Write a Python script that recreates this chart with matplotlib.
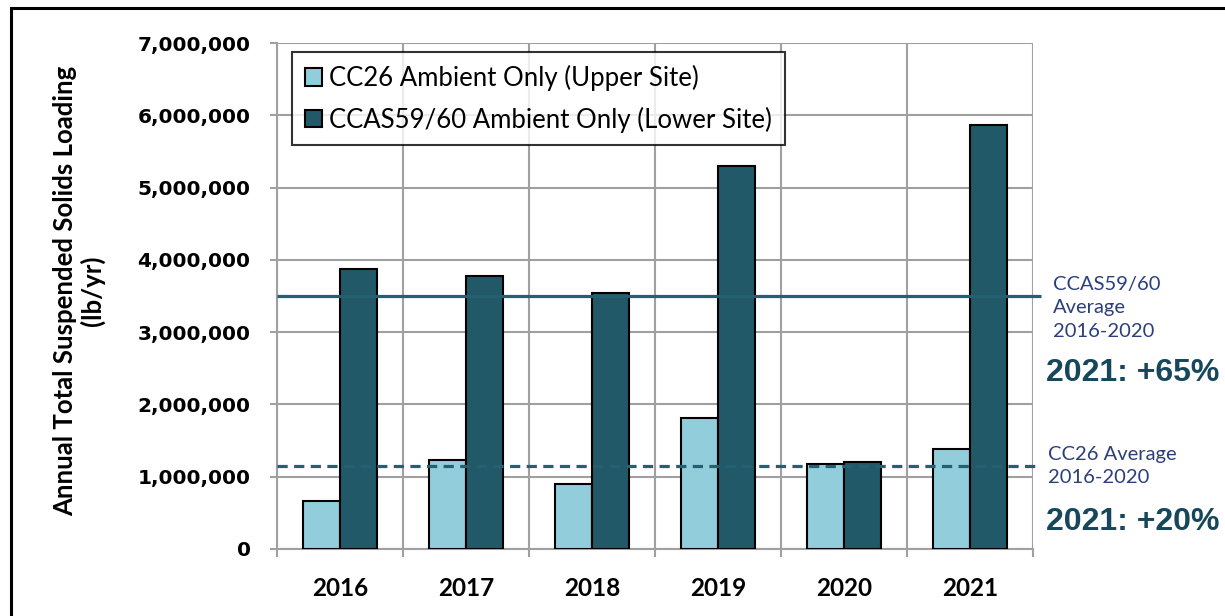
import numpy as np
import matplotlib.pyplot as plt
from matplotlib.patches import Rectangle
from matplotlib.ticker import FuncFormatter, MultipleLocator

# values (lb/yr)
years = ["2016", "2017", "2018", "2019", "2020", "2021"]
cc26 = [670000, 1230000, 905000, 1810000, 1170000, 1390000]
ccas = [3880000, 3770000, 3540000, 5300000, 1210000, 5860000]
ccas_avg = 3500000
cc26_avg = 1150000

LIGHT = "#92CDDC"
DARK = "#215968"
LINE = "#24606F"
GRID = "#A0A0A0"
NAVY = "#2B3F7A"
TEAL = "#17475A"

W, H = 1225, 616
fig = plt.figure(figsize=(W / 100, H / 100), dpi=100)
ax = fig.add_axes([277 / W, 1 - 549 / H, (1033 - 277) / W, (549 - 43) / H])

x = np.arange(len(years))
bw = 0.29
ax.bar(x - bw / 2, cc26, bw, color=LIGHT, edgecolor="black", linewidth=1.5,
       label="CC26 Ambient Only (Upper Site)", zorder=3)
ax.bar(x + bw / 2, ccas, bw, color=DARK, edgecolor="black", linewidth=1.5,
       label="CCAS59/60 Ambient Only (Lower Site)", zorder=3)

ax.hlines(ccas_avg, -0.5, 5.56, color=LINE, linewidth=2.3, zorder=4, clip_on=False)
ax.hlines(cc26_avg, -0.5, 5.56, color=LINE, linewidth=2.3, linestyles=(0, (3.2, 2.0)),
          zorder=4, clip_on=False)

ax.set_xlim(-0.5, 5.5)
ax.set_ylim(0, 7000000)
ax.yaxis.set_major_locator(MultipleLocator(1000000))
ax.yaxis.set_major_formatter(FuncFormatter(lambda v, p: f"{int(v):,}"))
ax.set_xticks(x)
ax.set_xticklabels(years)
ax.set_xticks(np.arange(-0.5, 6.0, 1.0), minor=True)

for s in ["top", "right"]:
    ax.spines[s].set_visible(False)
for s in ["left", "bottom"]:
    ax.spines[s].set_color(GRID)
    ax.spines[s].set_linewidth(1.5)

ax.grid(axis="y", which="major", color=GRID, linewidth=1.5, zorder=0)
ax.grid(axis="x", which="minor", color=GRID, linewidth=1.5, zorder=0)
ax.set_axisbelow(True)

ax.tick_params(axis="y", length=5, width=1.5, color=GRID, pad=14)
ax.tick_params(axis="x", which="major", length=0, pad=20)
ax.tick_params(axis="x", which="minor", length=6, width=1.5, color=GRID)
for lab in ax.get_yticklabels():
    lab.set_fontfamily("DejaVu Sans")
    lab.set_fontweight("bold")
    lab.set_fontsize(14.5)
for lab in ax.get_xticklabels():
    lab.set_fontfamily("Lato")
    lab.set_fontweight("bold")
    lab.set_fontsize(17.5)

leg = ax.legend(loc="upper left", bbox_to_anchor=(0.02, 0.982), borderaxespad=0,
                prop={"family": "Lato", "size": 18.5}, frameon=True, fancybox=False,
                handlelength=0.65, handleheight=0.65, handletextpad=0.3,
                labelspacing=0.6, borderpad=0.5)
leg.get_frame().set_edgecolor("black")
leg.get_frame().set_linewidth(1.5)
leg.set_zorder(6)

fig.text(79 / W, 1 - 291 / H, "Annual Total Suspended Solids Loading\n(lb/yr)",
         rotation=90, ha="center", va="center", multialignment="center",
         family="Lato", fontweight="bold", fontsize=18.5, linespacing=1.15)

fig.text(1053 / W, 1 - 308 / H, "CCAS59/60\nAverage\n2016-2020", ha="left", va="center",
         family="Lato", fontsize=14.5, color=NAVY, linespacing=1.45)
fig.text(1046 / W, 1 - 373 / H, "2021: +65%", ha="left", va="center",
         family="Liberation Sans", fontweight="bold", fontsize=23, color=TEAL)
fig.text(1048 / W, 1 - 466 / H, "CC26 Average\n2016-2020", ha="left", va="center",
         family="Lato", fontsize=14.5, color=NAVY, linespacing=1.4)
fig.text(1046 / W, 1 - 522 / H, "2021: +20%", ha="left", va="center",
         family="Liberation Sans", fontweight="bold", fontsize=23, color=TEAL)

# outer frame of the original slide graphic
fig.patches.append(Rectangle((11 / W, -0.1), 1.2, 1 - 8 / H + 0.1, transform=fig.transFigure,
                             fill=False, edgecolor="black", linewidth=2.2, clip_on=False))

fig.savefig("out.png", dpi=100)
